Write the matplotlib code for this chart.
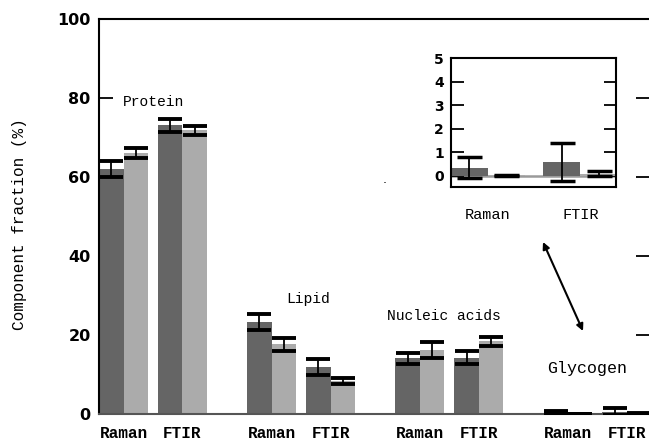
import matplotlib
matplotlib.use("Agg")
import matplotlib.pyplot as plt
import numpy as np

# ---- data ----
components = ["Protein", "Lipid", "Nucleic acids", "Glycogen"]
methods = ["Raman", "FTIR"]
# values per component: [Raman dark, Raman light, FTIR dark, FTIR light]
dark_raman = [62.0, 23.3, 14.1, 0.35]
light_raman = [66.1, 17.6, 16.2, 0.03]
dark_ftir = [73.1, 11.9, 14.3, 0.6]
light_ftir = [71.8, 8.3, 18.4, 0.1]
err_dark_raman = [2.0, 2.0, 1.4, 0.45]
err_light_raman = [1.3, 1.7, 2.1, 0.03]
err_dark_ftir = [1.7, 1.9, 1.7, 0.8]
err_light_ftir = [1.1, 0.8, 1.2, 0.1]
yticks_main = [0, 20, 40, 60, 80, 100]
yticks_inset = [0, 1, 2, 3, 4, 5]

DARK = "#656565"
LIGHT = "#ababab"
MONO = "Liberation Mono"
NUM = "DejaVu Sans"

fig = plt.figure(figsize=(6.49, 4.43), dpi=100)
W, H = 649, 443
ax = fig.add_axes([99 / W, 1 - 414 / H, (650 - 99) / W, (414 - 19) / H])

gstep = 6.05
base = np.arange(len(components)) * gstep
pos_dr = base + 0.5
pos_lr = base + 1.5
pos_df = base + 2.9
pos_lf = base + 3.9

ekw = dict(ecolor="black", elinewidth=1.3, capsize=8.5, capthick=2.8)
for pos, vals, errs, col in [(pos_dr, dark_raman, err_dark_raman, DARK),
                             (pos_lr, light_raman, err_light_raman, LIGHT),
                             (pos_df, dark_ftir, err_dark_ftir, DARK),
                             (pos_lf, light_ftir, err_light_ftir, LIGHT)]:
    ax.bar(pos, vals, width=1.0, color=col, edgecolor="none", zorder=2)
    ax.errorbar(pos, vals, yerr=errs, fmt="none", zorder=3, **ekw)

ax.set_xlim(0, (650 - 99) / 24.5)
ax.set_ylim(0, 100)
ax.set_yticks(yticks_main)
ax.set_yticklabels([str(v) for v in yticks_main], fontfamily=NUM,
                   fontweight="bold", fontsize=11.5)
ax.tick_params(axis="y", direction="in", length=10, width=1.3, pad=6,
               right=True, left=True)
xt = []
xl = []
for i in range(len(components)):
    xt += [(pos_dr[i] + pos_lr[i]) / 2, (pos_df[i] + pos_lf[i]) / 2]
    xl += methods
ax.set_xticks(xt)
ax.set_xticklabels(xl, fontfamily=MONO, fontweight="bold", fontsize=11.5)
ax.tick_params(axis="x", length=0, pad=9)
for s in ["left", "top"]:
    ax.spines[s].set_linewidth(1.5)
    ax.spines[s].set_color("black")
ax.spines["bottom"].set_color("#555555")
ax.spines["bottom"].set_linewidth(1.5)
ax.spines["right"].set_visible(False)

ax.set_ylabel("Component fraction (%)", fontfamily=MONO, fontsize=11.5)
ax.yaxis.set_label_coords(-(99 - 27) / 551, 0.48)

# group labels (figure pixel positions converted)
label_spec = [("Protein", 153, 102, 10.5), ("Lipid", 308, 299, 10.5),
              ("Nucleic acids", 444, 316, 10.5), ("Glycogen", 587, 369, 12)]
for txt, x, y, fs in label_spec:
    fig.text(x / W, 1 - y / H, txt, fontfamily=MONO, fontsize=fs,
             ha="center", va="center")

# double-headed arrow
ax.annotate("", xy=(543 / W, 1 - 242 / H), xytext=(583 / W, 1 - 331 / H),
            xycoords="figure fraction", textcoords="figure fraction",
            arrowprops=dict(arrowstyle="<|-|>", color="black", lw=1.5,
                            mutation_scale=10, shrinkA=0, shrinkB=0))
# small stray dot
fig.text(385 / W, 1 - 184 / H, "\u00b7", fontsize=9, ha="center",
         va="center", color="black")

# ---- inset ----
ins = fig.add_axes([451 / W, 1 - 187 / H, (616 - 451) / W, (187 - 58) / H])
ins_pos_dr, ins_pos_lr, ins_pos_df, ins_pos_lf = 0.5, 1.5, 3.0, 4.0
ins.axhline(0, color="#9a9a9a", lw=1.8, zorder=1)
ekw_i = dict(ecolor="black", elinewidth=1.3, capsize=9, capthick=2.5)
g = len(components) - 1
for p, v, e, col in [(ins_pos_dr, dark_raman[g], err_dark_raman[g], DARK),
                     (ins_pos_lr, light_raman[g], err_light_raman[g], LIGHT),
                     (ins_pos_df, dark_ftir[g], err_dark_ftir[g], DARK),
                     (ins_pos_lf, light_ftir[g], err_light_ftir[g], LIGHT)]:
    ins.bar([p], [v], width=1.0, color=col, edgecolor="none", zorder=2)
    ins.errorbar([p], [v], yerr=[e], fmt="none", zorder=3, **ekw_i)
ins.set_xlim(0, 4.46)
ins.set_ylim(-0.47, 5)
ins.set_yticks(yticks_inset)
ins.set_yticklabels([str(v) for v in yticks_inset], fontfamily=NUM,
                    fontweight="bold", fontsize=10)
ins.tick_params(axis="y", direction="in", length=9, width=1.3, pad=5,
                right=True, left=True)
ins.set_xticks([1.0, 3.5])
ins.set_xticklabels(methods, fontfamily=MONO, fontsize=11)
ins.tick_params(axis="x", length=0, pad=15)
for s in ins.spines.values():
    s.set_linewidth(1.5)
    s.set_color("black")

fig.savefig("out.png", dpi=100)
